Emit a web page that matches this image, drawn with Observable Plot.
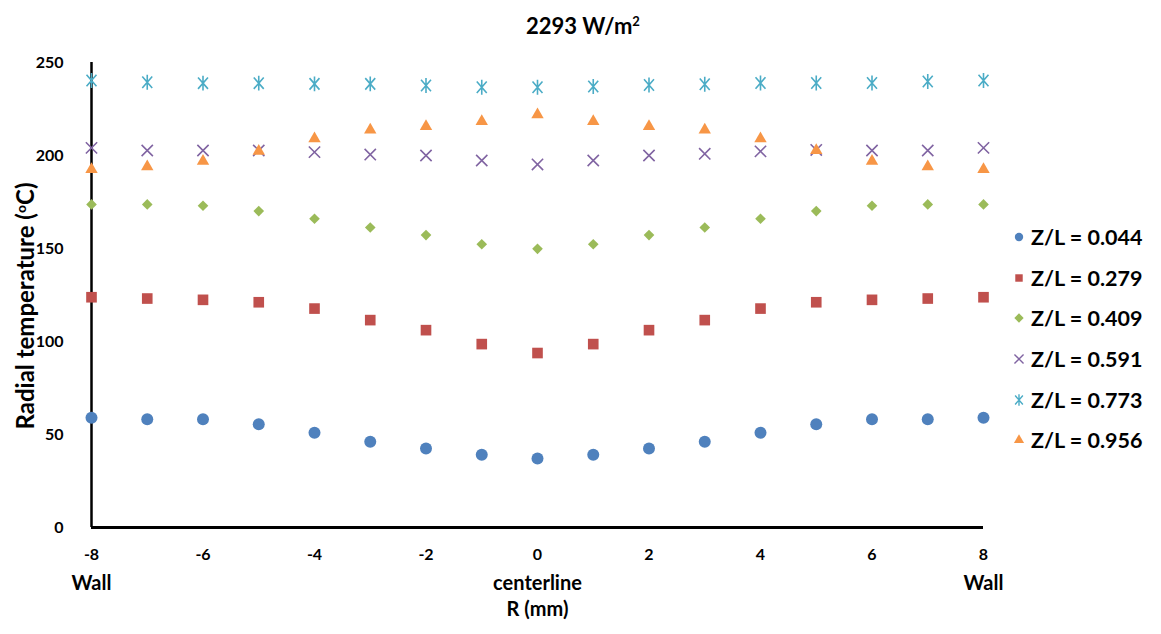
<!DOCTYPE html>
<html>
<head>
<meta charset="utf-8">
<script src="https://cdn.jsdelivr.net/npm/d3@7"></script>
<script src="https://cdn.jsdelivr.net/npm/@observablehq/plot@0.6"></script>
<style>
  html, body { margin: 0; padding: 0; background: #fff; }
  body { width: 1161px; height: 634px; position: relative; overflow: hidden; font-family: Lato, "Liberation Sans", sans-serif; font-weight: bold; color: #000; }
  #spacer { height: 40px; }
  #title { position: absolute; left: 0; width: 1166px; top: 25px; transform: translateY(-50%); text-align: center; font-size: 22px; white-space: nowrap; }
  #title sup { font-size: 13px; vertical-align: 8px; line-height: 0; }
  #ytitle { position: absolute; left: 24px; top: 306px; transform: translate(-50%, -50%) rotate(-90deg); white-space: nowrap; font-size: 24px; }
  #ytitle sup { font-size: 14px; vertical-align: 8px; line-height: 0; }
  #legend { position: absolute; left: 1012px; top: 217px; }
  .lrow { display: flex; align-items: center; height: 40.6px; font-size: 21.5px; white-space: nowrap; }
  .lrow svg { margin-right: 5px; }
</style>
</head>
<body>
<div id="spacer"></div>
<div id="title">2293 W/m<sup>2</sup></div>
<div id="chart"></div>
<div id="ytitle">Radial temperature (<sup>o</sup>C)</div>
<div id="legend"></div>
<script>
// Radial positions (mm)
const R = [-8, -7, -6, -5, -4, -3, -2, -1, 0, 1, 2, 3, 4, 5, 6, 7, 8];
// Series values (°C)
const zl044 = [59, 58.2, 58.2, 55.5, 50.9, 46.1, 42.5, 39.1, 37.1, 39.1, 42.5, 46.1, 50.9, 55.5, 58.2, 58.2, 59];
const zl279 = [123.8, 123.1, 122.4, 121.1, 117.7, 111.5, 106.1, 98.6, 93.8, 98.6, 106.1, 111.5, 117.7, 121.1, 122.4, 123.1, 123.8];
const zl409 = [173.7, 173.7, 173, 170.1, 166, 161.3, 157.2, 152.3, 149.8, 152.3, 157.2, 161.3, 166, 170.1, 173, 173.7, 173.7];
const zl591 = [204.1, 202.7, 202.7, 202.7, 201.8, 200.5, 200, 197.3, 195.2, 197.3, 200, 200.9, 202.2, 203, 202.7, 202.7, 204.1];
const zl773 = [240.3, 239.4, 238.9, 238.9, 238.5, 238.5, 237.6, 236.7, 236.7, 237.1, 237.9, 238.3, 239, 239, 239, 239.8, 240.3];
const zl956 = [192.5, 194, 196.9, 202.3, 209, 213.8, 215.6, 218.3, 221.9, 218.3, 215.6, 213.8, 209, 202.7, 196.9, 194, 192.5];
// Axis ticks
const xTicks = [-8, -6, -4, -2, 0, 2, 4, 6, 8];
const yTicks = [0, 50, 100, 150, 200, 250];
// Position labels under the x axis
const posLabels = [{r: -8, t: "Wall"}, {r: 0, t: "centerline"}, {r: 8, t: "Wall"}];
const xTitle = [{r: 0, t: "R (mm)"}];

const seriesNames = ["Z/L = 0.044", "Z/L = 0.279", "Z/L = 0.409", "Z/L = 0.591", "Z/L = 0.773", "Z/L = 0.956"];
const seriesValues = [zl044, zl279, zl409, zl591, zl773, zl956];
const seriesColors = ["#4F81BD", "#C0504D", "#9BBB59", "#8064A2", "#4BACC6", "#F79646"];
const seriesSymbols = ["circle", "square", "diamond2", "times", "starx", "triangle"];
const seriesFilled = [true, true, true, false, false, true];
const seriesR = [6, 6, 4.8, 5.2, 5.4, 4.6];

// Excel-style asterisk: an "x" with a vertical bar
const starX = {
  draw(context, size) {
    const s = Math.sqrt(size);
    const a = 0.52 * s, b = 0.6 * s, h = 0.78 * s;
    context.moveTo(-a, -b); context.lineTo(a, b);
    context.moveTo(-a, b); context.lineTo(a, -b);
    context.moveTo(0, -h); context.lineTo(0, h);
  }
};
const symbolFor = {circle: d3.symbolCircle, square: d3.symbolSquare, diamond2: d3.symbolDiamond2, times: d3.symbolTimes, starx: starX, triangle: d3.symbolTriangle};

const dotMarks = seriesNames.map((name, i) => {
  const data = R.map((r, j) => ({r, v: seriesValues[i][j]}));
  const sym = symbolFor[seriesSymbols[i]];
  return seriesFilled[i]
    ? Plot.dot(data, {x: "r", y: "v", symbol: sym, r: seriesR[i], fill: seriesColors[i], stroke: "none"})
    : Plot.dot(data, {x: "r", y: "v", symbol: sym, r: seriesR[i], stroke: seriesColors[i], strokeWidth: 1.6, fill: "none"});
});

const chart = Plot.plot({
  width: 1161,
  height: 594,
  marginLeft: 91,
  marginRight: 178,
  marginTop: 22,
  marginBottom: 107,
  style: {fontFamily: "Lato, 'Liberation Sans', sans-serif", fontWeight: "bold", fontSize: "16px", color: "#000", background: "#fff"},
  x: {domain: [-8, 8], ticks: xTicks, tickSize: 0, tickPadding: 21, label: null, tickFormat: d => String(d)},
  y: {domain: [0, 250], ticks: yTicks, tickSize: 0, tickPadding: 28, label: null},
  marks: [
    Plot.ruleY([0], {stroke: "#000", strokeWidth: 3}),
    Plot.ruleX([-8], {y1: 0, y2: 250, stroke: "#000", strokeWidth: 2.5}),
    ...dotMarks,
    Plot.text(posLabels, {x: "r", text: "t", frameAnchor: "bottom", dy: 62, fontSize: 20, fontWeight: "bold"}),
    Plot.text(xTitle, {x: "r", text: "t", frameAnchor: "bottom", dy: 88, fontSize: 20, fontWeight: "bold"})
  ]
});
document.getElementById("chart").appendChild(chart);

// Legend
const legend = d3.select("#legend");
seriesNames.forEach((name, i) => {
  const row = legend.append("div").attr("class", "lrow");
  const svg = row.append("svg").attr("width", 14).attr("height", 14);
  const size = Math.PI * 4.2 * 4.2;
  const p = svg.append("path")
    .attr("transform", "translate(7,7)")
    .attr("d", d3.symbol(symbolFor[seriesSymbols[i]], seriesSymbols[i] === "triangle" ? size * 0.8 : size)());
  if (seriesFilled[i]) p.attr("fill", seriesColors[i]).attr("stroke", "none");
  else p.attr("fill", "none").attr("stroke", seriesColors[i]).attr("stroke-width", 1.4);
  row.append("span").text(name);
});
</script>
</body>
</html>
